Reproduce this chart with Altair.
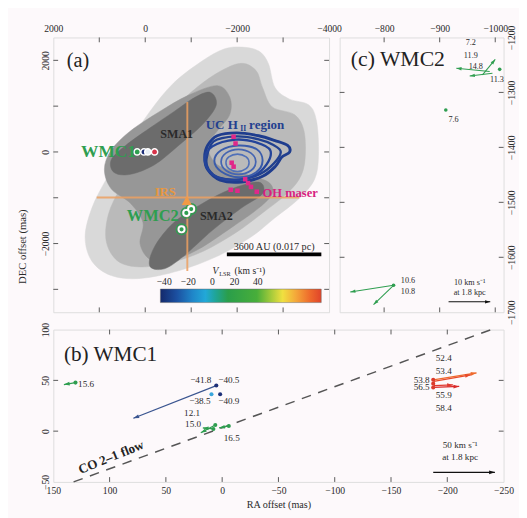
import math
import altair as alt
import pandas as pd

FONT = "Liberation Serif"
BG = "#fdf9fb"
FRAME = "#555555"
TXT = "#2a2a2a"

WA, HA = 286, 285
WC, HC = 170, 285
WB, HB = 467, 158

GREEN = "#2f9e50"
NAVY = "#1d2f78"
LBLUE = "#3aa6dc"
RED = "#dc3a2c"

# ------------------------------------------------------------------ panel (a)
a_xdomain = [2000, -4000]
a_ydomain = [-3500, 2500]
a_xlabels = [2000, 0, -2000, -4000]
a_xticks = [1000, 0, -1000, -2000, -3000]
a_ylabels = [2000, 0, -2000]
a_yticks = [2000, 1000, 0, -1000, -2000, -3000]

gray_colors = ["#d9d9d9", "#bababa", "#979797", "#6c6c6c", "#6c6c6c"]
gray_level1 = [(-2091, 2290), (-2469, 2205), (-2679, 1932), (-2825, 1405), (-3140, 1153),
               (-3560, 1027), (-3728, 669), (-3770, -68), (-3686, -594), (-3350, -1015),
               (-2825, -1436), (-2301, -1857), (-1567, -2278), (-727, -2594), (112, -2763),
               (741, -2699), (1161, -2384), (1308, -1857), (1161, -1226), (846, -594),
               (364, 185), (-98, 879), (-623, 1511), (-1252, 1995), (-1713, 2247)]
gray_level2 = [(-2049, 1932), (-2406, 1784), (-2553, 1405), (-2763, 984), (-3245, 816),
               (-3455, 458), (-3476, -173), (-3350, -594), (-3035, -952), (-2553, -1331),
               (-1986, -1752), (-1252, -2173), (-518, -2426), (112, -2510), (594, -2384),
               (846, -1963), (804, -1373), (531, -763), (112, -68), (-308, 563),
               (-832, 1153), (-1462, 1658)]
gray_level3 = [(-1567, 1448), (-1839, 1195), (-1839, 816), (-1567, 458), (-1357, 142),
               (-1567, -279), (-2196, -489), (-2679, -658), (-2763, -910), (-2469, -1226),
               (-1881, -1647), (-1147, -2131), (-518, -2384), (-98, -2341), (112, -2005),
               (49, -1542), (322, -1121), (741, -805), (888, -384), (741, 37),
               (322, 458), (-308, 879), (-937, 1237)]
gray_core1 = [(-1420, 1300), (-1546, 1027), (-1252, 606), (-727, 142), (-203, -279),
              (322, -489), (678, -447), (741, -173), (427, 142), (-98, 521),
              (-623, 879), (-1084, 1195)]
gray_core2 = [(-2469, -658), (-2553, -910), (-2091, -1226), (-1462, -1710), (-832, -2278),
              (-413, -2552), (-98, -2489), (-203, -2068), (-623, -1542), (-1252, -1121),
              (-1881, -805)]
gray_polys = [gray_level1, gray_level2, gray_level3, gray_core1, gray_core2]

hii_ring1 = [(-1357, 142), (-1567, 353), (-1986, 416), (-2469, 353), (-2825, 248),
             (-3098, 142), (-3140, -5), (-2972, -110), (-2825, -321), (-2553, -531),
             (-2091, -658), (-1630, -615), (-1357, -384), (-1294, -110)]
hii_ring1b = [(-1336, -140), (-1490, 230), (-1975, 340), (-2450, 280), (-2790, 150),
              (-2950, 0), (-2800, -250), (-2500, -480), (-2060, -600), (-1600, -560),
              (-1380, -380)]
hii_ring2 = [(-1294, -173), (-1462, 122), (-1965, 269), (-2427, 206), (-2721, 37),
             (-2637, -279), (-2343, -531), (-1881, -615), (-1462, -489)]
hii_ring3 = [(-1504, -194), (-1651, 37), (-2028, 142), (-2427, 58), (-2553, -194),
             (-2406, -447), (-2028, -552), (-1651, -426)]
hii_ring4 = [(-1651, -215), (-1756, -26), (-2028, 58), (-2301, -26), (-2406, -215),
             (-2301, -405), (-2028, -489), (-1756, -405)]
hii_ring5 = [(-1756, -236), (-1819, -110), (-2007, -47), (-2196, -110), (-2259, -236),
             (-2196, -363), (-2007, -426), (-1819, -363)]
hii_rings = [hii_ring1, hii_ring1b, hii_ring2, hii_ring3, hii_ring4, hii_ring5]
hii_colors = ["#1f3d8e", "#22418f", "#24449a", "#3a5cab", "#4565b2", "#5070b8"]
hii_widths = [3.0, 2.4, 2.4, 2.0, 1.8, 1.6]

oh_x = [-1923, -1965, -1881, -1923, -2175, -2238, -2301, -1860, -2007, -2427]
oh_y = [332, 185, -236, -321, -594, -679, -763, -826, -847, -868]

irs_cross = [(-916, 1090, -916, -2600), (1056, -994, -3350, -994)]
irs_xy = (-905, -1060)

wmc1_x = [175, 28, -56, -203]
wmc1_y = [0, 0, 0, 0]
wmc1_c = [GREEN, NAVY, "#e6edf5", "#d8344a"]
wmc2_x = [-895, -1000, -790]
wmc2_y = [-1331, -1247, -1689]

scalebar = (-1776, -3832, -2236)
cbar_box = (-330, -3830, -2994, -3289)
cbar_offsets = [0, 0.1, 0.2, 0.28, 0.34, 0.42, 0.6, 0.68, 0.76, 0.84, 0.93, 1.0]
cbar_colors = ["#14296b", "#1b4fa0", "#1f86c9", "#22a8d8", "#1fa59a", "#2a9e4a",
               "#48ae3a", "#9cc83a", "#f0e040", "#f4a93a", "#ee6a2c", "#e0442a"]
cbar_label_x = [-413, -937, -1462, -1944, -2448]
cbar_label_t = ["\u221240", "\u221220", "0", "20", "40"]

# ------------------------------------------------------------------ panel (c)
c_xdomain = [-720, -1015]
c_ydomain = [-1700, -1200]
c_xticks = [-800, -900, -1000]
c_yticks = [-1300, -1400, -1500, -1600]
c_ylabels = [-1200, -1300, -1400, -1500, -1600, -1700]
c_dots = [(-1008, -1258), (-911, -1332), (-817, -1651)]
c_arrows = [(-990, -1262, -930, -1256, GREEN), (-995, -1265, -954, -1270, GREEN),
            (-977, -1268, -1000, -1240, GREEN), (-817, -1651, -739, -1663, GREEN),
            (-817, -1651, -781, -1686, GREEN), (-916, -1681, -991, -1681, "#111111")]
c_labels = [(-956, -1209, "7.2"), (-956, -1232, "11.9"), (-965, -1253, "14.8"),
            (-1003, -1275, "11.3"), (-925, -1349, "7.6"), (-843, -1642, "10.6"),
            (-843, -1661, "10.8"), (-954, -1646, "10 km s\u207b\u00b9"),
            (-954, -1663, "at 1.8 kpc")]

# ------------------------------------------------------------------ panel (b)
b_xdomain = [150, -250]
b_ydomain = [-50, 100]
b_xlabels = [150, 100, 50, 0, -50, -100, -150, -200, -250]
b_xticks = [100, 50, 0, -50, -100, -150, -200]
b_ylabels = [100, 50, 0, -50]
b_yticks = [50, 0]
b_dots = [(130.3, 47.8, GREEN), (5.2, 44.9, NAVY), (1.8, 36.4, NAVY), (9.5, 36.4, LBLUE),
          (6.1, 6.0, GREEN), (7.8, 2.2, GREEN), (-5.9, 5.1, GREEN),
          (-187.5, 50.6, RED), (-187.5, 46.8, RED), (-187.5, 43.0, RED)]
b_arrows = [(130.3, 47.8, 140.6, 45.9, GREEN), (5.2, 44.9, 78.9, 12.7, "#3a5590"),
            (6.1, 6.0, 19.0, -1.6, GREEN), (7.8, 2.2, 17.2, 3.2, GREEN),
            (-5.9, 5.1, 2.7, 3.2, GREEN), (-187.5, 50.6, -226.0, 57.3, "#ee6a2c"),
            (-188.0, 49.0, -221.0, 55.5, "#e84a2a"), (-187.5, 43.0, -210.6, 44.0, "#d92a2a"),
            (-188.0, 44.8, -205.0, 45.5, "#e03a30"), (-187.5, -40.5, -242.3, -40.5, "#111111")]
b_labels = [(128.0, 46.8, "15.6", "left"), (19.0, 50.6, "\u221241.8", "center"),
            (-5.9, 50.6, "\u221240.5", "center"), (19.8, 29.7, "\u221238.5", "center"),
            (-5.9, 29.7, "\u221240.9", "center"), (26.7, 17.4, "12.1", "center"),
            (25.8, 7.0, "15.0", "center"), (-8.5, -7.3, "16.5", "center"),
            (-196.9, 71.5, "52.4", "center"), (-196.9, 59.2, "53.4", "center"),
            (-177.2, 50.6, "53.8", "center"), (-177.2, 43.0, "56.5", "center"),
            (-196.9, 35.4, "55.9", "center"), (-196.9, 23.1, "58.4", "center"),
            (-211.4, -13.9, "50 km s\u207b\u00b9", "center"), (-211.4, -25.3, "at 1.8 kpc", "center")]
co_line = (132, -50, -239, 100)
co_label = (98.6, -25.8, "CO 2\u20131 flow")

HEAD = "M0,0L0.55,1.7L-0.55,1.7Z"


def axis(orient, values, angle=0, **kw):
    base = dict(orient=orient, values=values, ticks=False, tickSize=0, domain=False, grid=False,
                labelFont=FONT, labelFontSize=10, labelColor=TXT, labelFlush=False,
                labelOverlap=False, labelBound=False, format="d", title=None, labelAngle=angle)
    base.update(kw)
    return alt.Axis(**base)


def make_enc(xdom, ydom, xaxis, yaxis):
    def X(f):
        return alt.X(f"{f}:Q", scale=alt.Scale(domain=xdom, zero=False, nice=False), axis=xaxis)

    def Y(f):
        return alt.Y(f"{f}:Q", scale=alt.Scale(domain=ydom, zero=False, nice=False), axis=yaxis)
    return X, Y


def tick_layers(X, Y, xt, yt, w, h, L=5):
    dx = pd.DataFrame({"v": xt})
    dy = pd.DataFrame({"v": yt})
    st = dict(color=FRAME, strokeWidth=1)
    return [
        alt.Chart(dx).mark_rule(**st).encode(x=X("v"), y=alt.value(0), y2=alt.value(L)),
        alt.Chart(dx).mark_rule(**st).encode(x=X("v"), y=alt.value(h), y2=alt.value(h - L)),
        alt.Chart(dy).mark_rule(**st).encode(y=Y("v"), x=alt.value(0), x2=alt.value(L)),
        alt.Chart(dy).mark_rule(**st).encode(y=Y("v"), x=alt.value(w), x2=alt.value(w - L)),
    ]


def arrow_layers(rows, X, Y, kx, ky, size=45, width=1.2):
    d = pd.DataFrame(rows, columns=["x0", "y0", "x1", "y1", "c"])
    d["ang"] = [(math.degrees(math.atan2(-(r.x1 - r.x0) * kx, (r.y1 - r.y0) * ky)) + 360) % 360
                for r in d.itertuples()]
    shaft = alt.Chart(d).mark_rule(strokeWidth=width).encode(
        x=X("x0"), y=Y("y0"), x2=alt.X2("x1"), y2=alt.Y2("y1"), color=alt.Color("c:N", scale=None))
    head = alt.Chart(d).mark_point(shape=HEAD, filled=True, size=size, opacity=1).encode(
        x=X("x1"), y=Y("y1"), angle=alt.Angle("ang:Q", scale=None), color=alt.Color("c:N", scale=None))
    return [shaft, head]


def text_layer(rows, X, Y, **kw):
    d = pd.DataFrame(rows, columns=["x", "y", "t"])
    props = dict(font=FONT, fontSize=10, color=TXT)
    props.update(kw)
    return alt.Chart(d).mark_text(**props).encode(x=X("x"), y=Y("y"), text="t:N")


# ================= panel (a) =================
Xa, Ya = make_enc(a_xdomain, a_ydomain,
                  axis("top", a_xlabels, labelPadding=4),
                  axis("left", a_ylabels, 270, labelAlign="center", labelBaseline="bottom", labelPadding=3))
a_layers = []
for k, poly in enumerate(gray_polys):
    d = pd.DataFrame({"x": [p[0] for p in poly], "y": [p[1] for p in poly], "i": range(len(poly))})
    a_layers.append(alt.Chart(d).mark_line(interpolate="cardinal-closed", fill=gray_colors[k],
                                           stroke=gray_colors[k], strokeWidth=0.5).encode(
        x=Xa("x"), y=Ya("y"), order="i:Q"))

for k, ring in enumerate(hii_rings):
    d = pd.DataFrame({"x": [p[0] for p in ring], "y": [p[1] for p in ring], "i": range(len(ring))})
    a_layers.append(alt.Chart(d).mark_line(interpolate="cardinal-closed", color=hii_colors[k],
                                           strokeWidth=hii_widths[k]).encode(x=Xa("x"), y=Ya("y"), order="i:Q"))

d_cross = pd.DataFrame(irs_cross, columns=["x0", "y0", "x1", "y1"])
a_layers.append(alt.Chart(d_cross).mark_rule(color="#eca060", strokeWidth=2, opacity=0.85).encode(
    x=Xa("x0"), y=Ya("y0"), x2=alt.X2("x1"), y2=alt.Y2("y1")))

a_layers.append(alt.Chart(pd.DataFrame({"x": oh_x, "y": oh_y})).mark_square(
    size=22, color="#e0288a", opacity=1).encode(x=Xa("x"), y=Ya("y")))

d_w2 = pd.DataFrame({"x": wmc2_x, "y": wmc2_y})
a_layers.append(alt.Chart(d_w2).mark_point(size=120, color=GREEN, strokeWidth=1.4, opacity=1).encode(
    x=Xa("x"), y=Ya("y")))
a_layers.append(alt.Chart(d_w2).mark_circle(size=40, color=GREEN, stroke="white", strokeWidth=2,
                                            opacity=1).encode(x=Xa("x"), y=Ya("y")))

a_layers.append(alt.Chart(pd.DataFrame({"x": [irs_xy[0]], "y": [irs_xy[1]]})).mark_point(
    shape="triangle-up", size=110, filled=True, color="#f29a45", opacity=1).encode(x=Xa("x"), y=Ya("y")))

a_layers.append(alt.Chart(pd.DataFrame({"x": wmc1_x, "y": wmc1_y, "c": wmc1_c})).mark_circle(
    size=42, stroke="white", strokeWidth=1.5, opacity=1).encode(
    x=Xa("x"), y=Ya("y"), color=alt.Color("c:N", scale=None)))

d_sb = pd.DataFrame({"x0": [scalebar[0]], "x1": [scalebar[1]], "y": [scalebar[2]]})
a_layers.append(alt.Chart(d_sb).mark_rule(color="black", strokeWidth=4).encode(
    x=Xa("x0"), x2=alt.X2("x1"), y=Ya("y")))

grad = alt.LinearGradient(gradient="linear", x1=0, x2=1, y1=0, y2=0,
                          stops=[alt.GradientStop(offset=o, color=c) for o, c in zip(cbar_offsets, cbar_colors)])
d_cb = pd.DataFrame({"x0": [cbar_box[0]], "x1": [cbar_box[1]], "y0": [cbar_box[2]], "y1": [cbar_box[3]]})
a_layers.append(alt.Chart(d_cb).mark_rect(fill=grad, stroke="#666", strokeWidth=0.5).encode(
    x=Xa("x0"), x2=alt.X2("x1"), y=Ya("y0"), y2=alt.Y2("y1")))
a_layers.append(text_layer([(x, -2847, t) for x, t in zip(cbar_label_x, cbar_label_t)], Xa, Ya, fontSize=10))
a_layers.append(text_layer([(-1462, -2594, "V")], Xa, Ya, fontSize=10, fontStyle="italic", align="left"))
a_layers.append(text_layer([(-1609, -2670, "LSR")], Xa, Ya, fontSize=6.5, align="left"))
a_layers.append(text_layer([(-1944, -2594, "(km s\u207b\u00b9)")], Xa, Ya, fontSize=10, align="left"))
a_layers.append(text_layer([(-2804, -2068, "3600 AU (0.017 pc)")], Xa, Ya, fontSize=10.5))

a_layers.append(text_layer([(1706, 1974, "(a)")], Xa, Ya, fontSize=21, align="left", color="#222"))
a_layers.append(text_layer([(200, -5, "WMC1")], Xa, Ya, fontSize=18, fontWeight="bold", align="right", color=GREEN))
a_layers.append(text_layer([(-727, -1394, "WMC2")], Xa, Ya, fontSize=17, fontWeight="bold", align="right", color=GREEN))
a_layers.append(text_layer([(-685, 395, "SMA1"), (-1546, -1394, "SMA2")], Xa, Ya, fontSize=12.5,
                           fontWeight="bold", color="#2a2a2a"))
a_layers.append(text_layer([(-434, -868, "IRS")], Xa, Ya, fontSize=13, fontWeight="bold", color="#e8973f"))
a_layers.append(text_layer([(-1315, 584, "UC H")], Xa, Ya, fontSize=13.5, fontWeight="bold", align="left", color="#23408f"))
a_layers.append(text_layer([(-2070, 500, "II")], Xa, Ya, fontSize=8, fontWeight="bold", align="left", color="#23408f"))
a_layers.append(text_layer([(-2260, 584, "region")], Xa, Ya, fontSize=13.5, fontWeight="bold", align="left", color="#23408f"))
a_layers.append(text_layer([(-2553, -889, "OH maser")], Xa, Ya, fontSize=13, fontWeight="bold", align="left", color="#d81f80"))

a_layers.append(alt.Chart(pd.DataFrame({"t": ["DEC offset (mas)"]})).mark_text(
    font=FONT, fontSize=11, angle=270, color=TXT).encode(x=alt.value(-31), y=alt.value(217), text="t:N"))

a_layers += tick_layers(Xa, Ya, a_xticks, a_yticks, WA, HA)
panel_a = alt.layer(*a_layers).properties(width=WA, height=HA)

# ================= panel (c) =================
Xc, Yc = make_enc(c_xdomain, c_ydomain,
                  axis("top", c_xticks, labelPadding=4),
                  axis("right", c_ylabels, 270, labelAlign="center", labelBaseline="top", labelPadding=3))
c_layers = []
c_layers += arrow_layers(c_arrows, Xc, Yc, WC / 295, HC / 500, size=40, width=1.1)
c_layers.append(alt.Chart(pd.DataFrame(c_dots, columns=["x", "y"])).mark_circle(
    size=14, color=GREEN, opacity=1).encode(x=Xc("x"), y=Yc("y")))
c_layers.append(text_layer(c_labels, Xc, Yc, fontSize=8.5))
c_layers.append(text_layer([(-740, -1240, "(c) WMC2")], Xc, Yc, fontSize=22.5, align="left", color="#222"))
c_layers += tick_layers(Xc, Yc, c_xticks, c_yticks, WC, HC)
panel_c = alt.layer(*c_layers).properties(width=WC, height=HC)

# ================= panel (b) =================
Xb, Yb = make_enc(b_xdomain, b_ydomain,
                  axis("bottom", b_xlabels, labelPadding=4, title="RA offset (mas)", titleFont=FONT,
                       titleFontSize=10.5, titleFontWeight="normal", titleColor=TXT, titlePadding=5),
                  axis("left", b_ylabels, 270, labelAlign="center", labelBaseline="bottom", labelPadding=3))
b_layers = []
d_co = pd.DataFrame([co_line], columns=["x0", "y0", "x1", "y1"])
b_layers.append(alt.Chart(d_co).mark_rule(color="#555", strokeWidth=1.5, strokeDash=[10, 8]).encode(
    x=Xb("x0"), y=Yb("y0"), x2=alt.X2("x1"), y2=alt.Y2("y1")))
b_layers.append(text_layer([co_label], Xb, Yb, fontSize=13.5, fontWeight="bold", angle=338, color="#222"))
b_layers += arrow_layers(b_arrows, Xb, Yb, WB / 400, HB / 150, size=50, width=1.3)
b_layers.append(alt.Chart(pd.DataFrame(b_dots, columns=["x", "y", "c"])).mark_circle(
    size=18, opacity=1).encode(x=Xb("x"), y=Yb("y"), color=alt.Color("c:N", scale=None)))
for al in ["left", "center"]:
    rows = [(x, y, t) for x, y, t, a in b_labels if a == al]
    b_layers.append(text_layer(rows, Xb, Yb, fontSize=9.5, align=al))
b_layers.append(text_layer([(140.6, 76, "(b) WMC1")], Xb, Yb, fontSize=22, align="left", color="#222"))
b_layers += tick_layers(Xb, Yb, b_xticks, b_yticks, WB, HB)
panel_b = alt.layer(*b_layers).properties(width=WB, height=HB)

top = alt.hconcat(panel_a, panel_c, spacing=11, bounds="flush")
chart = alt.vconcat(top, panel_b, spacing=-4, bounds="full").properties(
    background=BG, padding={"left": 9, "top": 6, "right": 2, "bottom": 2}
).configure_view(stroke=FRAME, strokeWidth=1.3, fill=BG).configure(font=FONT)

chart.save("out.html", embed_options={"renderer": "svg", "actions": False})
